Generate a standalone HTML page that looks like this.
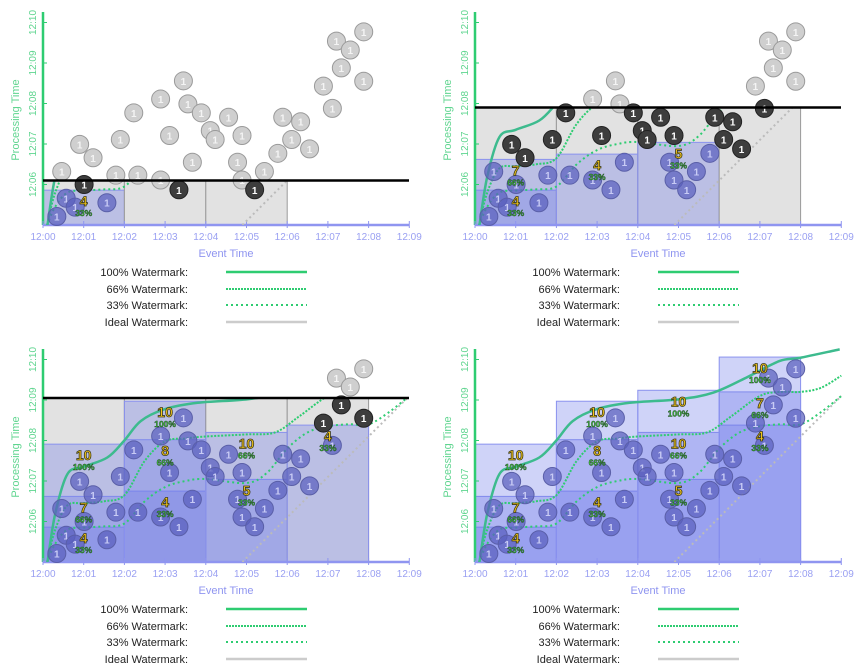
<!DOCTYPE html>
<html><head><meta charset="utf-8">
<style>
body{margin:0;background:#fff;width:864px;height:672px;overflow:hidden;font-family:"Liberation Sans",sans-serif}
svg{position:absolute;left:0;top:0}
</style></head>
<body>
<svg id="chart" width="864" height="672" viewBox="0 0 864 672"></svg>
<script>
// data (minutes: event offset from 12:00, processing offset from 12:05)
const dotEvent=[0.46,0.90,1.23,1.79,1.90,2.23,2.33,2.89,3.11,2.89,3.45,3.56,3.89,4.11,4.23,3.67,4.56,4.89,4.78,4.89,5.44,5.89,6.33,6.11,5.77,6.55,6.89,7.11,7.33,7.21,7.55,7.88,7.88,1.01,3.34,5.2,0.34,0.57,0.79,1.57];
const dotProc=[1.32,1.99,1.66,1.23,2.11,2.77,1.23,3.11,2.21,1.11,3.56,2.99,2.77,2.33,2.11,1.55,2.66,2.21,1.55,1.11,1.32,2.66,2.55,2.11,1.77,1.88,3.43,2.88,3.88,4.54,4.32,4.77,3.55,1.0,0.87,0.87,0.21,0.66,0.44,0.55];
const windowStart=[0,2,4,6];
const pane33=[0.86,1.75,2.04,3.38];
const pane66=[1.62,3.02,3.2,4.2];
const pane100=[2.91,3.97,4.24,5.06];
const count33=[4,4,5,4];
const count66=[7,8,10,7];
const count100=[10,10,10,10];
const wm100E=[0.11,0.3,0.6,1.0,1.58,1.99,2.4,2.98,3.8,5.03,5.85,6.66,7.48,7.98,8.96];
const wm100P=[0,1.19,2.17,2.35,2.58,2.99,3.48,3.77,3.93,4.02,4.18,4.55,4.96,5.04,5.25];
const wm66E=[0.1,0.3,0.6,1.0,1.5,2.0,2.5,3.0,3.5,4.0,5.0,5.7,6.3,7.0,7.5,8.0,8.5,9.0];
const wm66P=[0,0.8,1.4,1.45,1.5,1.65,2.5,2.98,3.05,3.1,3.15,3.2,3.6,4.1,4.2,4.2,4.3,4.6];
const wm33E=[0.1,0.3,0.6,1.0,1.5,2.0,2.5,3.0,3.5,4.0,5.0,5.5,6.0,6.5,7.0,7.5,8.0,8.5,9.0];
const wm33P=[0,0.45,0.8,0.85,0.88,0.95,1.5,1.85,2.0,2.05,1.95,2.2,2.8,3.2,3.35,3.4,3.4,3.7,4.1];
const idealE=[4.9,9.0];
const idealP=[0,4.1];
const panelTime=[1.1,2.9,4.05,99];
const xTicks=["12:00","12:01","12:02","12:03","12:04","12:05","12:06","12:07","12:08","12:09"];
const yTicks=["12:06","12:07","12:08","12:09","12:10"];
const legendLabels=["100% Watermark:","66% Watermark:","33% Watermark:","Ideal Watermark:"];

const NS="http://www.w3.org/2000/svg";
const root=document.getElementById('chart');
function mk(tag,attrs,parent,text){const e=document.createElementNS(NS,tag);for(const k in attrs)e.setAttribute(k,attrs[k]);if(text!==undefined)e.textContent=text;(parent||root).appendChild(e);return e;}
const offsets=[[0,0],[432,0],[0,337],[432,337]];
const X0=43,Y0=225,SX=40.7,SY=40.5;

function smooth(pts){
  let d='M'+pts[0][0].toFixed(1)+','+pts[0][1].toFixed(1);
  for(let i=0;i<pts.length-1;i++){
    const p0=pts[i-1]||pts[i],p1=pts[i],p2=pts[i+1],p3=pts[i+2]||p2;
    const c1=[p1[0]+(p2[0]-p0[0])/6,p1[1]+(p2[1]-p0[1])/6];
    const c2=[p2[0]-(p3[0]-p1[0])/6,p2[1]-(p3[1]-p1[1])/6];
    d+=`C${c1[0].toFixed(1)},${c1[1].toFixed(1)} ${c2[0].toFixed(1)},${c2[1].toFixed(1)} ${p2[0].toFixed(1)},${p2[1].toFixed(1)}`;
  }
  return d;
}

offsets.forEach((o,pi)=>{
  const T=panelTime[pi];
  const g=mk('g',{transform:`translate(${o[0]},${o[1]})`});
  
  
  const xs=e=>X0+e*SX, ys=p=>Y0-p*SY;
  const cid='clip'+pi;
  const cp=mk('clipPath',{id:cid},g);
  const ct=Math.max(ys(Math.min(T,6)),0);
  mk('rect',{x:X0,y:ct,width:380,height:Y0-ct},cp);
  windowStart.forEach((w,wi)=>{
    const hasData=dotEvent.some((e,i)=>e>=w&&e<w+2&&dotProc[i]<=T);
    if(hasData&&T<50){
      const r=mk('rect',{x:xs(w),y:ys(T),width:2*SX,height:T*SY,fill:'#e2e2e2',stroke:'#999','stroke-width':1},g);
      
    }
    [pane33[wi],pane66[wi],pane100[wi]].forEach(v=>{
      if(v<=T){
        const r=mk('rect',{x:xs(w),y:ys(v),width:2*SX,height:v*SY,fill:'rgba(110,120,235,0.33)',stroke:'#8a92ee','stroke-width':1},g);
        
      }
    });
  });
  const ya=mk('line',{x1:X0,y1:12,x2:X0,y2:Y0,stroke:'#2ecc71','stroke-width':2.5},g);
  
  yTicks.forEach((t,i)=>{const y=ys(i+1);mk('line',{x1:X0,y1:y,x2:X0+4,y2:y,stroke:'#2ecc71'},g);
    const tx=mk('text',{x:36,y:y,transform:`rotate(-90 36 ${y})`,'text-anchor':'middle','font-size':10,fill:'#5fd58f'},g,t);
    });
  const yt=mk('text',{x:19,y:120,transform:'rotate(-90 19 120)','text-anchor':'middle','font-size':11,fill:'#5fd58f'},g,'Processing Time');
  
  const xa=mk('line',{x1:X0,y1:Y0,x2:409,y2:Y0,stroke:'#8f95f0','stroke-width':2.5},g);
  
  xTicks.forEach((t,i)=>{const x=xs(i);mk('line',{x1:x,y1:Y0-4,x2:x,y2:Y0+3,stroke:'#8f95f0'},g);
    const tx=mk('text',{x:x,y:240,'text-anchor':'middle','font-size':10,fill:'#9aa0f2'},g,t);
    });
  const xt=mk('text',{x:226,y:257,'text-anchor':'middle','font-size':11,fill:'#8f95f0'},g,'Event Time');
  
  const line=(E,P,attrs,name)=>{const d=smooth(E.map((e,i)=>[xs(e),ys(P[i])]));
    const p=mk('path',Object.assign({d,fill:'none','clip-path':`url(#${cid})`},attrs),g);
    };
  line(idealE,idealP,{stroke:'#bbb','stroke-width':2,'stroke-dasharray':'2 3'},'ideal-watermark');
  line(wm33E,wm33P,{stroke:'#2ecc71','stroke-width':2,'stroke-dasharray':'2 3'},'watermark-33');
  line(wm66E,wm66P,{stroke:'#2ecc71','stroke-width':2,'stroke-dasharray':'2 1.5'},'watermark-66');
  line(wm100E,wm100P,{stroke:'#3dbb8e','stroke-width':2.5},'watermark-100');
  dotEvent.forEach((e,i)=>{
    const p=dotProc[i];const wi=Math.min(3,Math.floor(e/2));
    const fired=[pane33[wi],pane66[wi],pane100[wi]].filter(v=>v<=T);
    const top=fired.length?Math.max(...fired):-1;
    let fill,stroke,tc;
    if(p>T){fill='#cfcfcf';stroke='#9a9a9a';tc='#f4f4f4';}
    else if(p<=top){fill='rgba(90,95,190,0.72)';stroke='#5a5fa8';tc='#c8cbf5';}
    else {fill='#3d3d3d';stroke='#222';tc='#fff';}
    const c=mk('circle',{cx:xs(e),cy:ys(p),r:9,fill,stroke,'stroke-width':1},g);
    
    mk('text',{x:xs(e),y:ys(p)+4,'text-anchor':'middle','font-size':10,'font-weight':'bold',fill:tc},g,'1');
  });
  windowStart.forEach((w,wi)=>{
    [[pane33[wi],count33[wi],'33%'],[pane66[wi],count66[wi],'66%'],[pane100[wi],count100[wi],'100%']].forEach(l=>{
      if(l[0]<=T){const cx=xs(w+1),y=ys(l[0]);
        const a=mk('text',{x:cx,y:y+16,'text-anchor':'middle','font-size':14,'font-weight':'bold',fill:'#f5c518',stroke:'#3a3a1a','stroke-width':0.8},g,String(l[1]));
        
        mk('text',{x:cx,y:y+26,'text-anchor':'middle','font-size':8.5,'font-weight':'bold',fill:'#4c4',stroke:'#1a3a1a','stroke-width':0.4},g,l[2]);}
    });
  });
  if(T<50){const bl=mk('line',{x1:X0,y1:ys(T),x2:409,y2:ys(T),stroke:'#000','stroke-width':2.5},g);
    }
  const ly=[272,289,305,322];
  legendLabels.forEach((t,i)=>{
    const tx=mk('text',{x:188,y:ly[i]+4,'text-anchor':'end','font-size':11,fill:'#222'},g,t);
    
    const st=[{stroke:'#2ecc71','stroke-width':2.5},{stroke:'#2ecc71','stroke-width':2,'stroke-dasharray':'2 1'},{stroke:'#2ecc71','stroke-width':2,'stroke-dasharray':'2 3'},{stroke:'#ccc','stroke-width':2.5}][i];
    const ln=mk('line',Object.assign({x1:226,y1:ly[i],x2:307,y2:ly[i]},st),g);
    
  });
});
</script>
</body></html>
